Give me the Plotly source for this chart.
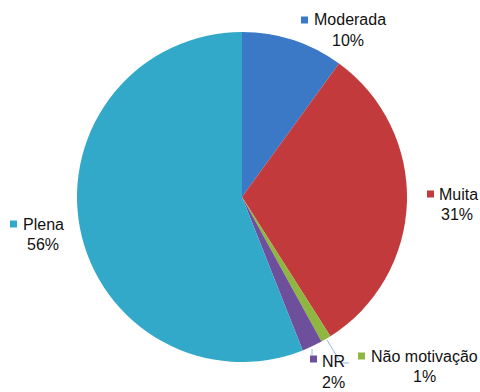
import plotly.graph_objects as go

labels = ["Moderada", "Muita", "Não motivação", "NR", "Plena"]
values = [10, 31, 1, 2, 56]
pct_text = ["10%", "31%", "1%", "2%", "56%"]
colors = ["#3b78c6", "#c23a3c", "#8fb640", "#6e4f9b", "#33a9c9"]

W, H = 480, 392

def px(x):
    return x / W

def py(y):
    return 1 - y / H

cx, cy, r = 242, 197, 165

fig = go.Figure(go.Pie(
    labels=labels, values=values, sort=False, direction="clockwise", rotation=0,
    marker=dict(colors=colors, line=dict(color="white", width=0)),
    textinfo="none", hoverinfo="label+percent", showlegend=False,
    domain=dict(x=[px(cx - r), px(cx + r)], y=[py(cy + r), py(cy - r)]),
))

# label layout: (square_left, name_center_y, name_left, pct_center_x, pct_center_y)
label_pos = [
    (301, 20, 312, 348, 40),
    (427, 194, 437, 457, 214),
    (358, 356, 369, 424, 376),
    None,
    (10, 224, 21, 43, 244),
]

shapes = []
annotations = []
font = dict(family="Liberation Sans, Arial, sans-serif", size=16, color="#111111")
for i, pos in enumerate(label_pos):
    if pos is None:
        continue
    sx, ny, nx, pcx, pcy = pos
    shapes.append(dict(type="rect", xref="paper", yref="paper",
                       x0=px(sx), x1=px(sx + 7), y0=py(ny + 3.5), y1=py(ny - 3.5),
                       fillcolor=colors[i], line=dict(width=0)))
    annotations.append(dict(x=px(nx), y=py(ny), xref="paper", yref="paper",
                            text=labels[i], showarrow=False, xanchor="left", yanchor="middle",
                            font=font))
    annotations.append(dict(x=px(pcx), y=py(pcy), xref="paper", yref="paper",
                            text=pct_text[i], showarrow=False, xanchor="center", yanchor="middle",
                            font=font))

# NR label: two lines in one text block, anchored to the bottom edge
annotations.append(dict(x=px(333), y=0, xref="paper", yref="paper",
                        text=labels[3] + "<br>" + pct_text[3], showarrow=False,
                        xanchor="center", yanchor="bottom", align="center",
                        borderpad=0, font=font))
shapes.append(dict(type="rect", xref="paper", yref="paper",
                   x0=px(310), x1=px(317), y0=py(362.5), y1=py(355.5),
                   fillcolor=colors[3], line=dict(width=0)))

# leader lines
lc = "#8fb8e0"
for (x0, y0, x1, y1) in [(312, 349, 312, 355), (327, 340, 341, 363), (341, 363, 349, 363)]:
    shapes.append(dict(type="line", xref="paper", yref="paper",
                       x0=px(x0), y0=py(y0), x1=px(x1), y1=py(y1),
                       line=dict(color=lc, width=1)))

fig.update_layout(
    width=W, height=H, margin=dict(l=0, r=0, t=0, b=0),
    paper_bgcolor="white", plot_bgcolor="white",
    shapes=shapes, annotations=annotations,
)

fig.write_html("out.html")
